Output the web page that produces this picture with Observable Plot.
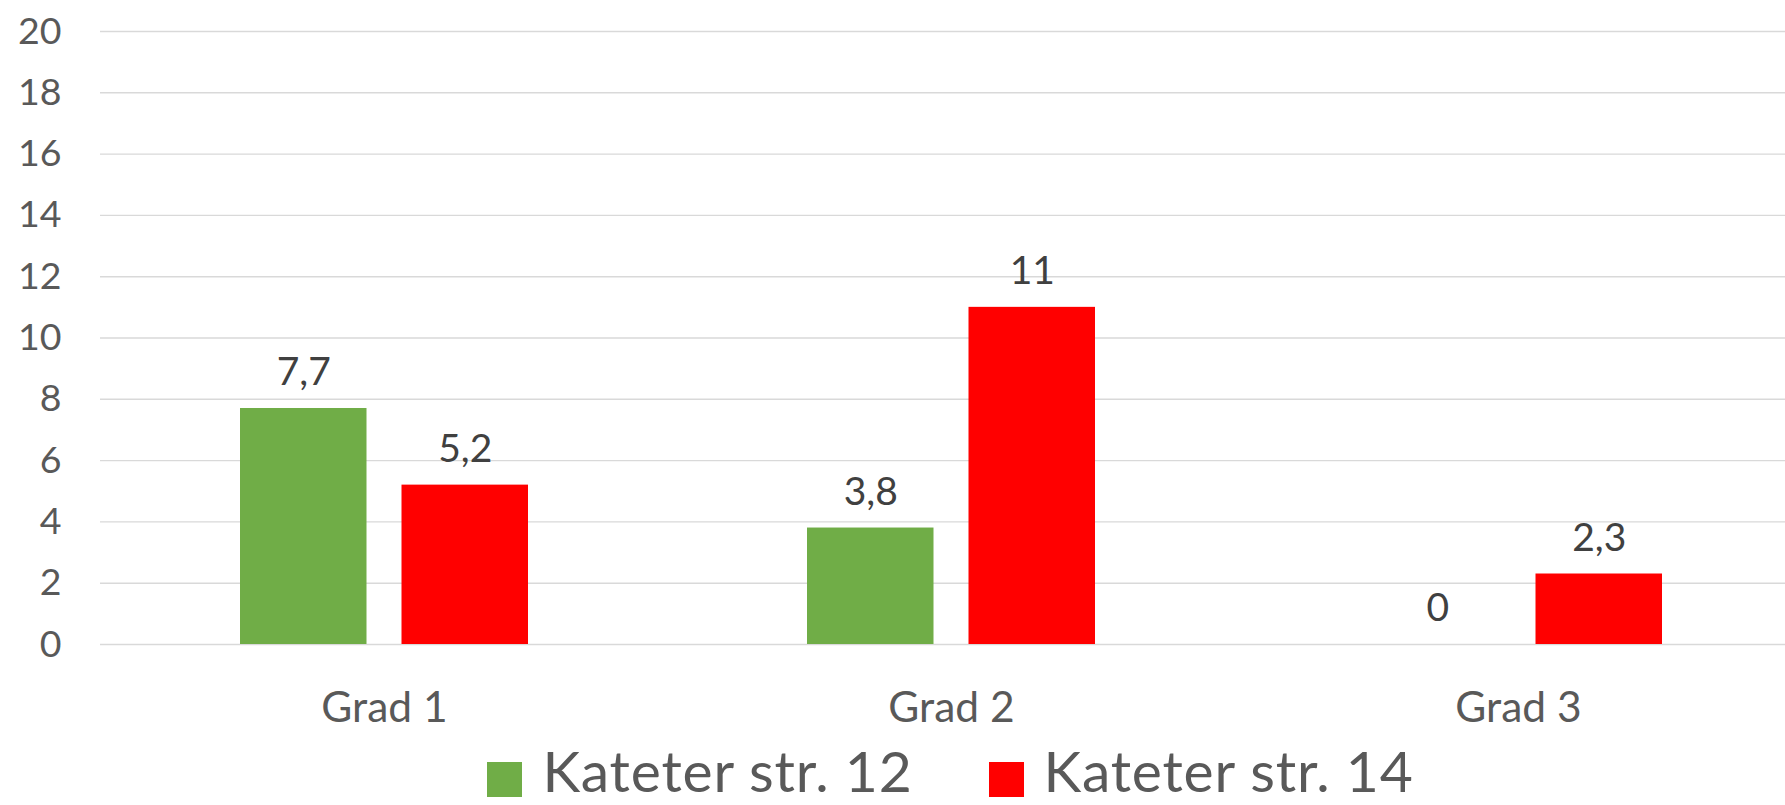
<!DOCTYPE html>
<html>
<head>
<meta charset="utf-8">
<script src="https://cdn.jsdelivr.net/npm/d3@7"></script>
<script src="https://cdn.jsdelivr.net/npm/@observablehq/plot@0.6"></script>
<style>
  html, body { margin: 0; padding: 0; background: #fff; overflow: hidden; }
  #chart svg { display: block; }
  #legend { display: flex; justify-content: center; align-items: center; margin-left: 100px; margin-top: -4px; width: 1701px;
    font-family: Lato, "Open Sans", sans-serif; font-size: 57px; letter-spacing: 0.8px; color: #595959; line-height: normal; }
  .item { display: flex; align-items: center; margin: 0 38px; }
  .sw { width: 35px; height: 35px; margin-right: 20px; position: relative; top: 9px; }
</style>
</head>
<body>
<div id="chart"></div>
<div id="legend"></div>
<script>
const categories = ["Grad 1", "Grad 2", "Grad 3"];
const seriesNames = ["Kateter str. 12", "Kateter str. 14"];
const seriesColors = ["#70ad47", "#ff0000"];
const values12 = [7.7, 3.8, 0];
const values14 = [5.2, 11, 2.3];
const yTicks = [0, 2, 4, 6, 8, 10, 12, 14, 16, 18, 20];

const data = [];
categories.forEach((c, i) => {
  data.push({grad: c, series: seriesNames[0], value: values12[i]});
  data.push({grad: c, series: seriesNames[1], value: values14[i]});
});
const fmt = v => String(v).replace(".", ",");
const s12 = data.filter(d => d.series === seriesNames[0]);
const s14 = data.filter(d => d.series === seriesNames[1]);

const gapW = 161.5; // inset within the group band
const chart = Plot.plot({
  width: 1785,
  height: 740,
  marginLeft: 100,
  marginRight: -16.5,
  marginTop: 31,
  marginBottom: 96,
  style: {fontFamily: "Lato, 'Open Sans', sans-serif", background: "#fff"},
  x: {domain: categories, paddingInner: 0.492, paddingOuter: 0.246, label: null},
  y: {domain: [0, 20], label: null},
  color: {domain: seriesNames, range: seriesColors},
  marks: [
    Plot.ruleY(yTicks, {stroke: "#d9d9d9", strokeWidth: 1.4}),
    Plot.barY(s12, {x: "grad", y: "value", fill: "series", insetRight: gapW}),
    Plot.barY(s14, {x: "grad", y: "value", fill: "series", insetLeft: gapW}),
    Plot.text(s12, {x: "grad", y: "value", text: d => fmt(d.value), dx: -(gapW / 2), dy: -35.5, fontSize: 39, fill: "#404040"}),
    Plot.text(s14, {x: "grad", y: "value", text: d => fmt(d.value), dx: gapW / 2, dy: -35.5, fontSize: 39, fill: "#404040"}),
    Plot.axisY({ticks: yTicks, tickSize: 0, tickPadding: 39, fontSize: 37.5, color: "#595959", tickFormat: d => String(d)}),
    Plot.axisX({tickSize: 0, tickPadding: 47, fontSize: 42.5, color: "#595959"})
  ]
});
document.getElementById("chart").appendChild(chart);

const legend = document.getElementById("legend");
seriesNames.forEach((name, i) => {
  const it = document.createElement("div");
  it.className = "item";
  const sw = document.createElement("div");
  sw.className = "sw";
  sw.style.background = seriesColors[i];
  const tx = document.createElement("span");
  tx.textContent = name;
  it.appendChild(sw); it.appendChild(tx);
  legend.appendChild(it);
});
</script>
</body>
</html>
